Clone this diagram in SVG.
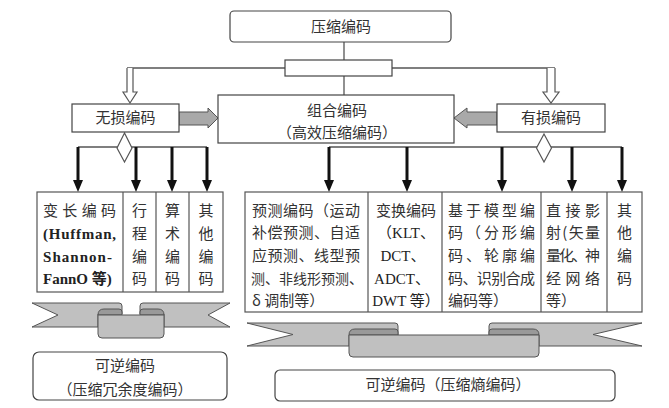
<svg xmlns="http://www.w3.org/2000/svg" width="669" height="408" viewBox="0 0 669 408">
<style>
.box{fill:#fff;stroke:#444;stroke-width:1.2}
.t{font-family:"Noto Sans CJK SC","Noto Sans",sans-serif;font-size:15px;fill:#333}
.c{text-anchor:middle}
.lat{font-family:"Liberation Serif","Noto Sans CJK SC",serif;font-size:15px;fill:#222}
.b{font-weight:bold}
.conn{stroke:#555;stroke-width:1.3;fill:none}
.thick{stroke:#111;stroke-width:3;fill:none}
.hollow{fill:#fff;stroke:#555;stroke-width:1.2}
.block{fill:#a9a9a9;stroke:#555;stroke-width:1}
.rib{fill:#c0c0c0;stroke:#555;stroke-width:1}
.roll{fill:#999;stroke:#555;stroke-width:1}
.grid{fill:none;stroke:#555;stroke-width:1.2}
</style>
<defs>
<marker id="ah" markerUnits="userSpaceOnUse" markerWidth="12" markerHeight="10" viewBox="0 0 12 10" refX="0" refY="5" orient="auto">
<path d="M0,0 L12,5 L0,10 Z" fill="#111"/>
</marker>
</defs>

<g id="connectors">
<line class="conn" x1="344" y1="42" x2="344" y2="95"/>
<line class="conn" x1="127" y1="68" x2="555" y2="68"/>
<path class="hollow" d="M127,68 V92 H123 L130,103 L137,92 H133 V68"/>
<path class="hollow" d="M547,68 V92 H543 L551,103 L559,92 H555 V68"/>
<path class="block" d="M179,112 H208 V108 L218,118 L208,128 V125 H179 Z"/>
<path class="block" d="M497,112 H467 V108 L454,118 L467,128 V125 H497 Z"/>
<line class="conn" x1="78" y1="147" x2="207" y2="147"/>
<line class="conn" x1="329" y1="147" x2="622" y2="147"/>
<line class="thick" x1="78" y1="147" x2="78" y2="180" marker-end="url(#ah)"/>
<line class="thick" x1="136" y1="147" x2="136" y2="180" marker-end="url(#ah)"/>
<line class="thick" x1="172" y1="147" x2="172" y2="180" marker-end="url(#ah)"/>
<line class="thick" x1="207" y1="147" x2="207" y2="180" marker-end="url(#ah)"/>
<line class="thick" x1="329" y1="147" x2="329" y2="180" marker-end="url(#ah)"/>
<line class="thick" x1="407" y1="147" x2="407" y2="180" marker-end="url(#ah)"/>
<line class="thick" x1="502" y1="147" x2="502" y2="180" marker-end="url(#ah)"/>
<line class="thick" x1="572" y1="147" x2="572" y2="180" marker-end="url(#ah)"/>
<line class="thick" x1="622" y1="147" x2="622" y2="180" marker-end="url(#ah)"/>
<polygon class="hollow" points="124.5,133 132,148 124.5,162 117,148"/>
<polygon class="hollow" points="544,134 551.5,148 544,162 536.5,148"/>
</g>

<g id="top">
<rect class="box" x="230" y="11" width="221" height="31" rx="4"/>
<text class="t c" x="341" y="31.5">压缩编码</text>
</g>
<g id="splitter">
<rect class="box" x="285" y="60" width="107" height="16"/>
</g>
<g id="lossless">
<rect class="box" x="72" y="104" width="107" height="28"/>
<text class="t c" x="125.5" y="123">无损编码</text>
</g>
<g id="lossy">
<rect class="box" x="497" y="104" width="108" height="28"/>
<text class="t c" x="551" y="123">有损编码</text>
</g>
<g id="hybrid">
<rect class="box" x="218" y="95" width="236" height="48"/>
<text class="t c" x="337" y="115.5">组合编码</text>
<text class="t c" x="337" y="137.5">（高效压缩编码）</text>
</g>

<g id="left-table">
<rect class="grid" x="37" y="192" width="186" height="100"/>
<line class="grid" x1="123" y1="192" x2="123" y2="292"/>
<line class="grid" x1="156" y1="192" x2="156" y2="292"/>
<line class="grid" x1="189" y1="192" x2="189" y2="292"/>
<text class="t" x="43" y="215.5" textLength="73">变长编码</text>
<text class="lat b" x="43" y="238.5" textLength="73">(Huffman,</text>
<text class="lat b" x="43" y="261.5" textLength="69">Shannon-</text>
<text class="lat b" x="43" y="284">FannO 等)</text>
<text class="t c" x="139.5" y="215.5">行</text>
<text class="t c" x="139.5" y="238.5">程</text>
<text class="t c" x="139.5" y="261.5">编</text>
<text class="t c" x="139.5" y="284">码</text>
<text class="t c" x="172.5" y="215.5">算</text>
<text class="t c" x="172.5" y="238.5">术</text>
<text class="t c" x="172.5" y="261.5">编</text>
<text class="t c" x="172.5" y="284">码</text>
<text class="t c" x="206" y="215.5">其</text>
<text class="t c" x="206" y="238.5">他</text>
<text class="t c" x="206" y="261.5">编</text>
<text class="t c" x="206" y="284">码</text>
</g>

<g id="right-table">
<rect class="grid" x="245" y="192" width="397" height="120"/>
<line class="grid" x1="368" y1="192" x2="368" y2="312"/>
<line class="grid" x1="442" y1="192" x2="442" y2="312"/>
<line class="grid" x1="541" y1="192" x2="541" y2="312"/>
<line class="grid" x1="607" y1="192" x2="607" y2="312"/>
<text class="t" x="252" y="215.5" textLength="108">预测编码（运动</text>
<text class="t" x="252" y="238" textLength="108">补偿预测、自适</text>
<text class="t" x="252" y="260.5" textLength="108">应预测、线型预</text>
<text class="t" x="251" y="283.5" style="font-size:14px">测、非线形预测、</text>
<text class="t" x="252" y="305.5">δ 调制等）</text>
<text class="t c" x="406" y="215.5">变换编码</text>
<text class="lat c" x="406" y="238">（KLT、</text>
<text class="lat c" x="403" y="260.5">DCT、</text>
<text class="lat c" x="402" y="283.5">ADCT、</text>
<text class="lat c" x="406" y="305.5">DWT 等）</text>
<text class="t" x="448" y="215.5" textLength="87">基于模型编</text>
<text class="t" x="448" y="238" textLength="87">码（分形编</text>
<text class="t" x="448" y="260.5" textLength="87">码、轮廓编</text>
<text class="t" x="448" y="283.5" textLength="87">码、识别合成</text>
<text class="t" x="448" y="305.5">编码等）</text>
<text class="t" x="546" y="215.5" textLength="54">直接影</text>
<text class="t" x="546" y="238" textLength="54">射(矢量</text>
<text class="t" x="546" y="260.5" textLength="54">量化、神</text>
<text class="t" x="546" y="283.5" textLength="54">经网络</text>
<text class="t" x="546" y="305.5">等）</text>
<text class="t c" x="624.5" y="215.5">其</text>
<text class="t c" x="624.5" y="238">他</text>
<text class="t c" x="624.5" y="260.5">编</text>
<text class="t c" x="624.5" y="283.5">码</text>
</g>

<g id="ribbon-left">
<path class="rib" d="M32,303 H119 Q122,303 122,306 V314 H98 V327 H32 L58,315 Z"/>
<path class="rib" d="M230,303 H143 Q140,303 140,306 V314 H164 V327 H230 L208,315 Z"/>
<path class="roll" d="M98,315 Q98,309 104,309 H119 Q122,309 122,312 V315 Z"/>
<path class="roll" d="M164,315 Q164,309 158,309 H143 Q140,309 140,312 V315 Z"/>
<path class="rib" d="M98,315 H164 V334 Q164,338 160,338 H102 Q98,338 98,334 Z"/>
</g>

<g id="ribbon-right">
<path class="rib" d="M247,323 H395 Q398,323 398,326 V335 H349 V346 H247 L293,334.5 Z"/>
<path class="rib" d="M642,323 H492 Q489,323 489,326 V335 H539 V346 H642 L593,334.5 Z"/>
<path class="roll" d="M349,335 Q349,329 355,329 H395 Q398,329 398,332 V335 Z"/>
<path class="roll" d="M539,335 Q539,329 533,329 H492 Q489,329 489,332 V335 Z"/>
<path class="rib" d="M349,335 H539 V353 Q539,357 535,357 H353 Q349,357 349,353 Z"/>
</g>

<g id="reversible-left">
<rect class="box" x="33" y="352" width="194" height="48" rx="6"/>
<text class="t c" x="125" y="370.5">可逆编码</text>
<text class="t c" x="125" y="395">（压缩冗余度编码）</text>
</g>
<g id="reversible-right">
<rect class="box" x="275" y="370" width="340" height="31" rx="5"/>
<text class="t c" x="448" y="389.5">可逆编码（压缩熵编码）</text>
</g>
</svg>
